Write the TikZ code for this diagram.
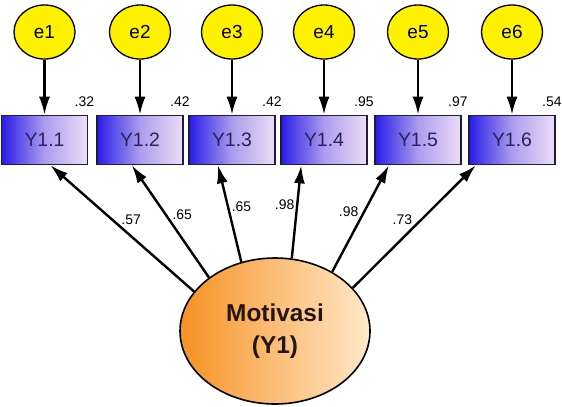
\documentclass[tikz,border=0pt]{standalone}
\usepackage{fontspec}
\setmainfont{Liberation Sans}
\usetikzlibrary{arrows.meta,shapes.geometric}
\definecolor{boxdark}{RGB}{40,28,232}
\definecolor{boxmid}{RGB}{172,156,238}
\definecolor{boxlight}{RGB}{236,222,246}
\definecolor{boxline}{RGB}{30,28,60}
\definecolor{boxtext}{RGB}{40,34,90}
\definecolor{latdark}{RGB}{247,145,35}
\definecolor{latmid}{RGB}{251,190,120}
\definecolor{latlight}{RGB}{255,232,200}
\definecolor{lattext}{RGB}{35,22,20}

\begin{document}
\begin{tikzpicture}[x=1bp,y=-1bp,
    err/.style={ellipse,draw,line width=1.3bp,fill=yellow,minimum width=61bp,minimum height=54bp,
      inner sep=0pt,font=\fontsize{19}{22}\selectfont},
    obs/.style={rectangle,draw=boxline,line width=1.6bp,left color=boxdark,right color=boxlight,
      middle color=boxmid,minimum width=86bp,minimum height=49bp,text=boxtext,
      font=\fontsize{19.5}{22}\selectfont},
    lat/.style={ellipse,draw,line width=1.6bp,left color=latdark,right color=latlight,middle color=latmid,
      minimum width=190bp,minimum height=146bp,align=center,text=lattext,
      font=\bfseries\fontsize{24.5}{32}\selectfont},
    num/.style={font=\fontsize{14}{16}\selectfont,inner sep=1bp},
    arr/.style={line width=2.4bp,-{Latex[length=18bp,width=11bp]}}]
  \useasboundingbox (0,0) rectangle (562,406);
  \node[err] (e1) at (44.5,32) {e1};
  \node[err] (e2) at (140,32) {e2};
  \node[err] (e3) at (232,32) {e3};
  \node[err] (e4) at (324,32) {e4};
  \node[err] (e5) at (418,32) {e5};
  \node[err] (e6) at (512,32) {e6};
  \node[obs] (y1) at (44.5,140) {Y1.1};
  \node[obs] (y2) at (140,140) {Y1.2};
  \node[obs] (y3) at (232,140) {Y1.3};
  \node[obs] (y4) at (324,140) {Y1.4};
  \node[obs] (y5) at (418,140) {Y1.5};
  \node[obs] (y6) at (512,140) {Y1.6};
  \node[num,anchor=south east] (r1) at ([xshift=7bp,yshift=7bp]y1.north east) {.32};
  \node[num,anchor=south east] (r2) at ([xshift=7bp,yshift=7bp]y2.north east) {.42};
  \node[num,anchor=south east] (r3) at ([xshift=7bp,yshift=7bp]y3.north east) {.42};
  \node[num,anchor=south east] (r4) at ([xshift=7bp,yshift=7bp]y4.north east) {.95};
  \node[num,anchor=south east] (r5) at ([xshift=7bp,yshift=7bp]y5.north east) {.97};
  \node[num,anchor=south east] (r6) at ([xshift=7bp,yshift=7bp]y6.north east) {.54};
  \node[lat] (mot) at (275,331) {Motivasi\\(Y1)};
  \draw[arr] (e1) -- (y1);
  \draw[arr] (e2) -- (y2);
  \draw[arr] (e3) -- (y3);
  \draw[arr] (e4) -- (y4);
  \draw[arr] (e5) -- (y5);
  \draw[arr] (e6) -- (y6);
  \draw[arr] (mot.154.8) -- node[num,anchor=south west,xshift=-3bp,yshift=2bp] (w1) {.57} (y1.-77);
  \draw[arr] (mot.141.5) -- node[num,anchor=south west] (w2) {.65} (y2.-108);
  \draw[arr] (mot.116) -- node[num,anchor=south west] (w3) {.65} (y3.-119.4);
  \draw[arr] (mot.77.8) -- node[num,anchor=south east] (w4) {.98} (y4.-132);
  \draw[arr] (mot.46.4) -- node[num,anchor=south east] (w5) {.98} (y5.-139.4);
  \draw[arr] (mot.29.4) -- node[num,anchor=south east] (w6) {.73} (y6.-145.6);
\end{tikzpicture}
\end{document}
